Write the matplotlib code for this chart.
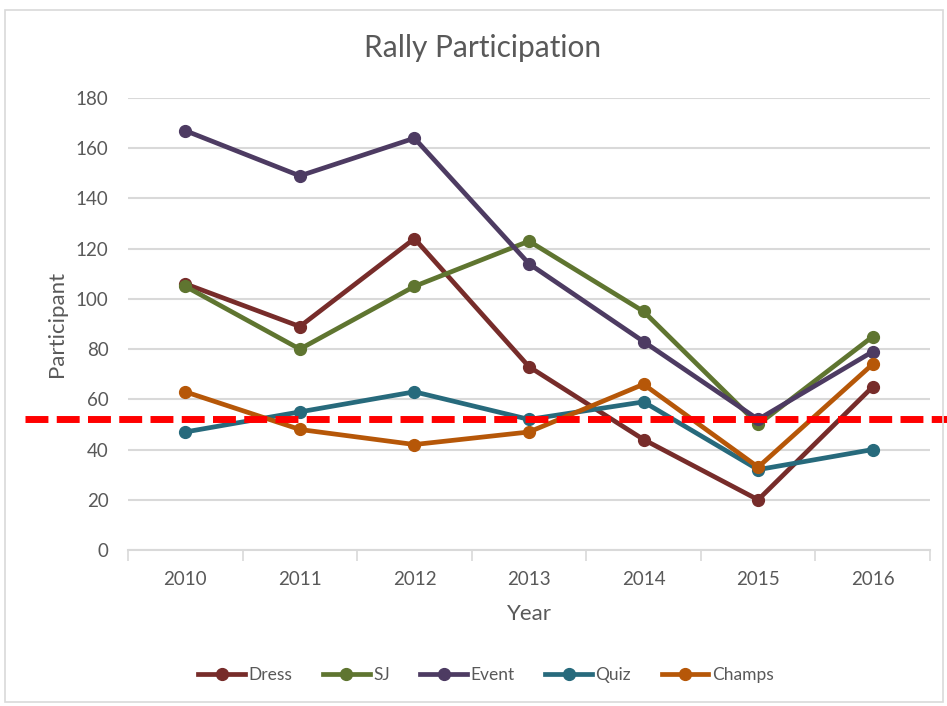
import matplotlib
matplotlib.use("Agg")
import matplotlib.pyplot as plt
from matplotlib.patches import Rectangle
from matplotlib.lines import Line2D

years = ["2010", "2011", "2012", "2013", "2014", "2015", "2016"]
dress = [106, 89, 124, 73, 44, 20, 65]
sj = [105, 80, 105, 123, 95, 50, 85]
event = [167, 149, 164, 114, 83, 52, 79]
quiz = [47, 55, 63, 52, 59, 32, 40]
champs = [63, 48, 42, 47, 66, 33, 74]
threshold = 52.3

series = [("Dress", dress, "#772C2A"),
          ("SJ", sj, "#5F7530"),
          ("Event", event, "#4D3B62"),
          ("Quiz", quiz, "#276A7C"),
          ("Champs", champs, "#B65708")]

plt.rcParams['font.family'] = ['Lato', 'DejaVu Sans']
txt = "#595959"

W, H = 947, 706
fig = plt.figure(figsize=(W / 100, H / 100), dpi=100)
fig.patches.append(Rectangle((5 / W, 4 / H), 938 / W, 692 / H, transform=fig.transFigure,
                             fill=False, edgecolor="#D9D9D9", linewidth=1.2))

l, r, t, b = 128, 930, 98, 550
ax = fig.add_axes([l / W, 1 - b / H, (r - l) / W, (b - t) / H])

x = list(range(len(years)))
for name, vals, c in series:
    ax.plot(x, vals, color=c, linewidth=3.4, marker="o", markersize=8.5,
            solid_capstyle="round", label=name, zorder=3)

ax.axhline(threshold, xmin=(25 - l) / (r - l), xmax=(W - l) / (r - l), color="#FF0000",
           linewidth=5, dashes=(3.3, 1.2), clip_on=False, zorder=5)

ax.set_xlim(-0.5, len(years) - 0.5)
ax.set_ylim(0, 180)
ax.set_yticks(range(0, 181, 20))
ax.set_xticks(x)
ax.set_xticklabels(years)
ax.set_xticks([i - 0.5 for i in range(len(years) + 1)], minor=True)
ax.tick_params(axis="x", which="major", length=0, pad=15, labelsize=13.5, labelcolor=txt)
ax.tick_params(axis="x", which="minor", length=8, color="#D9D9D9", width=1.2)
ax.tick_params(axis="y", length=0, pad=14, labelsize=13.5, labelcolor=txt)
ax.grid(axis="y", color="#D9D9D9", linewidth=1.5, zorder=0)
ax.set_axisbelow(True)
for s in ["top", "right", "left"]:
    ax.spines[s].set_visible(False)
ax.spines["bottom"].set_color("#D9D9D9")
ax.spines["bottom"].set_linewidth(1.5)

ax.set_xlabel("Year", fontsize=16, color=txt, labelpad=12)
ax.set_ylabel("Participant", fontsize=16, color=txt, labelpad=6)
fig.text(483 / W, 1 - 48 / H, "Rally Participation", ha="center", va="center",
         fontsize=21.5, color=txt)

handles = [Line2D([], [], color=c, linewidth=3.4, marker="o", markersize=8.5) for _, _, c in series]
fig.legend(handles, [n for n, _, _ in series], loc="center", bbox_to_anchor=(486 / W, 1 - 675 / H),
           ncol=5, frameon=False, fontsize=12.5, handlelength=2.7, handletextpad=0.2,
           columnspacing=1.75, labelcolor=txt)

fig.savefig("out.png", dpi=100)
